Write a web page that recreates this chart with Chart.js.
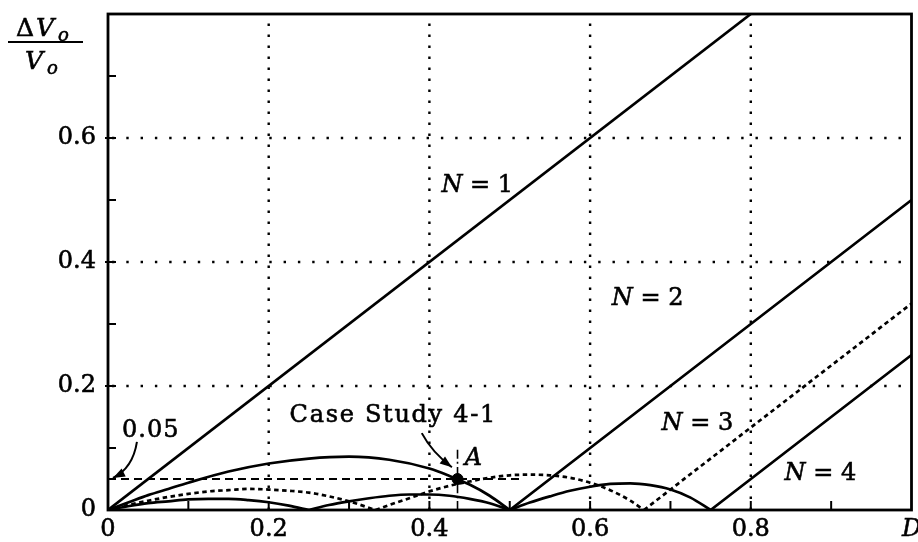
<!DOCTYPE html>
<html>
<head>
<meta charset="utf-8">
<script src="https://cdn.jsdelivr.net/npm/chart.js@4.4.1/dist/chart.umd.min.js"></script>
<style>
  html, body { margin: 0; padding: 0; background: #fff; }
  #wrap { width: 918px; height: 542px; }
</style>
</head>
<body>
<div id="wrap"><canvas id="c"></canvas></div>
<script>
// x = duty ratio D, y = normalized output ripple dVo/Vo
const xTicks = [0, 0.2, 0.4, 0.6, 0.8, 1];
const xTickLabels = ['0', '0.2', '0.4', '0.6', '0.8', 'D'];
const yTicks = [0, 0.2, 0.4, 0.6];
const yTickLabels = ['0', '0.2', '0.4', '0.6'];

// N = 1
const n1D = [0, 0.8];
const n1V = [0, 0.8];

// N = 2
const n2ArchD = [0, 0.025, 0.05, 0.075, 0.1, 0.15, 0.2, 0.25, 0.3, 0.35, 0.4, 0.425, 0.45, 0.475, 0.5];
const n2ArchV = [0, 0.012, 0.024, 0.034, 0.044, 0.062, 0.075, 0.083, 0.086, 0.081, 0.067, 0.055, 0.041, 0.023, 0];
const n2LineD = [0.5, 1];
const n2LineV = [0, 0.5];

// N = 3 (dashed)
const n3Arch1D = [0, 0.025, 0.05, 0.075, 0.1, 0.125, 0.15, 0.175, 0.2, 0.225, 0.25, 0.275, 0.3, 0.333];
const n3Arch1V = [0, 0.008, 0.015, 0.021, 0.026, 0.030, 0.032, 0.034, 0.033, 0.031, 0.028, 0.022, 0.014, 0];
const n3Arch2D = [0.333, 0.35, 0.375, 0.4, 0.425, 0.45, 0.475, 0.5, 0.525, 0.55, 0.575, 0.6, 0.625, 0.65, 0.667];
const n3Arch2V = [0, 0.008, 0.019, 0.030, 0.039, 0.046, 0.052, 0.056, 0.057, 0.056, 0.052, 0.044, 0.032, 0.015, 0];
const n3LineD = [0.667, 1];
const n3LineV = [0, 0.333];

// N = 4
const n4Arch1D = [0, 0.025, 0.05, 0.075, 0.1, 0.125, 0.15, 0.175, 0.2, 0.225, 0.25];
const n4Arch1V = [0, 0.006, 0.011, 0.014, 0.017, 0.018, 0.018, 0.016, 0.0125, 0.007, 0];
const n4Arch2D = [0.25, 0.275, 0.3, 0.325, 0.35, 0.375, 0.4, 0.425, 0.45, 0.475, 0.5];
const n4Arch2V = [0, 0.008, 0.014, 0.019, 0.023, 0.025, 0.025, 0.023, 0.018, 0.011, 0];
const n4Arch3D = [0.5, 0.525, 0.55, 0.575, 0.6, 0.625, 0.65, 0.675, 0.7, 0.725, 0.75];
const n4Arch3V = [0, 0.012, 0.022, 0.031, 0.0375, 0.042, 0.043, 0.040, 0.033, 0.020, 0];
const n4LineD = [0.75, 1];
const n4LineV = [0, 0.25];

// Case Study 4-1: 0.05 limit and operating point A
const limitD = [0, 0.515];
const limitV = [0.05, 0.05];
const markerD = [0.435, 0.435];
const markerV = [0, 0.1];
const pointA = { x: 0.435, y: 0.05 };

const SERIF = '"DejaVu Serif", "Liberation Serif", serif';

function pts(xs, ys) {
  return xs.map((x, i) => ({ x, y: ys[i] }));
}

function curve(xs, ys, dash, width) {
  return {
    data: pts(xs, ys),
    showLine: true,
    borderColor: '#000',
    borderWidth: width || 2.7,
    borderDash: dash || [],
    pointRadius: 0,
    tension: 0.4,
    cubicInterpolationMode: 'monotone',
    fill: false
  };
}

function findLabel(ticks, labels, v) {
  const k = ticks.findIndex(t => Math.abs(t - v) < 1e-6);
  return k >= 0 ? labels[k] : '';
}

// slightly heavier text, like the printed original
function text(ctx, s, px, py) {
  ctx.strokeText(s, px, py);
  ctx.fillText(s, px, py);
}

function arrow(ctx, p0, c, p1) {
  ctx.beginPath();
  ctx.moveTo(p0.x, p0.y);
  ctx.quadraticCurveTo(c.x, c.y, p1.x, p1.y);
  ctx.stroke();
  const ang = Math.atan2(p1.y - c.y, p1.x - c.x);
  const L = 12, W = 4.5;
  ctx.beginPath();
  ctx.moveTo(p1.x, p1.y);
  ctx.lineTo(p1.x - L * Math.cos(ang) + W * Math.sin(ang), p1.y - L * Math.sin(ang) - W * Math.cos(ang));
  ctx.lineTo(p1.x - L * Math.cos(ang) - W * Math.sin(ang), p1.y - L * Math.sin(ang) + W * Math.cos(ang));
  ctx.closePath();
  ctx.fill();
}

function nLabel(ctx, px, py, num) {
  ctx.font = 'italic 24px ' + SERIF;
  text(ctx, 'N', px, py);
  const w = ctx.measureText('N').width;
  ctx.font = '24px ' + SERIF;
  text(ctx, ' = ' + num, px + w, py);
}

const frame = {
  id: 'frame',
  beforeDatasetsDraw(chart) {
    const { ctx, chartArea: a, scales: { x, y } } = chart;
    ctx.save();
    ctx.strokeStyle = '#000';
    ctx.lineWidth = 2.4;
    ctx.setLineDash([2.4, 8.6]);
    xTicks.slice(1, -1).forEach(v => {
      const px = x.getPixelForValue(v);
      ctx.beginPath(); ctx.moveTo(px, a.bottom); ctx.lineTo(px, a.top); ctx.stroke();
    });
    ctx.setLineDash([2.4, 11.9]);
    yTicks.slice(1).forEach(v => {
      const py = y.getPixelForValue(v);
      ctx.beginPath(); ctx.moveTo(a.left + 4, py); ctx.lineTo(a.right, py); ctx.stroke();
    });
    ctx.restore();
  },
  afterDatasetsDraw(chart) {
    const { ctx, chartArea: a, scales: { x, y } } = chart;
    const P = (dx, dy) => ({ x: x.getPixelForValue(dx), y: y.getPixelForValue(dy) });
    ctx.save();
    ctx.fillStyle = '#000';
    ctx.strokeStyle = '#000';

    // ticks, pointing inwards
    ctx.lineWidth = 2;
    x.ticks.forEach(t => {
      if (t.value <= 0 || t.value >= 1) return;
      const px = x.getPixelForValue(t.value);
      ctx.beginPath(); ctx.moveTo(px, a.bottom); ctx.lineTo(px, a.bottom - 9); ctx.stroke();
    });
    y.ticks.forEach(t => {
      if (t.value <= 0 || t.value >= 0.8) return;
      const py = y.getPixelForValue(t.value);
      const major = findLabel(yTicks, yTickLabels, t.value) !== '';
      ctx.beginPath(); ctx.moveTo(a.left - (major ? 3 : 0), py); ctx.lineTo(a.left + 8, py); ctx.stroke();
    });

    // frame
    ctx.lineWidth = 2.8;
    ctx.strokeRect(a.left, a.top, a.width, a.height);

    // curve labels
    ctx.lineWidth = 0.6;
    ctx.textAlign = 'left';
    ctx.textBaseline = 'alphabetic';
    let p = P(0.415, 0.513); nLabel(ctx, p.x, p.y, 1);
    p = P(0.627, 0.331); nLabel(ctx, p.x, p.y, 2);
    p = P(0.689, 0.129); nLabel(ctx, p.x, p.y, 3);
    p = P(0.842, 0.048); nLabel(ctx, p.x, p.y, 4);

    // Case Study 4-1 annotation
    ctx.font = '24px ' + SERIF;
    ctx.letterSpacing = '1.7px';
    p = P(0.226, 0.142); text(ctx, 'Case Study 4-1', p.x, p.y);
    ctx.letterSpacing = '1px';
    p = P(0.0174, 0.118); text(ctx, '0.05', p.x, p.y);
    ctx.letterSpacing = '0px';
    ctx.font = 'italic 24px ' + SERIF;
    p = P(0.444, 0.0726); text(ctx, 'A', p.x, p.y);

    ctx.lineWidth = 2;
    arrow(ctx, P(0.3905, 0.124), P(0.403, 0.0935), P(0.428, 0.069));
    arrow(ctx, P(0.036, 0.11), P(0.031, 0.068), P(0.0062, 0.0516));

    // y axis title: dVo / Vo
    ctx.lineWidth = 0.6;
    ctx.font = '25px ' + SERIF;
    text(ctx, '\u0394', 16, 36);
    ctx.font = 'italic 25px ' + SERIF;
    text(ctx, 'V', 36, 36);
    ctx.font = 'italic 18px ' + SERIF;
    text(ctx, 'o', 58, 41);
    ctx.lineWidth = 1.8;
    ctx.beginPath(); ctx.moveTo(8, 42); ctx.lineTo(83, 42); ctx.stroke();
    ctx.lineWidth = 0.6;
    ctx.font = 'italic 25px ' + SERIF;
    text(ctx, 'V', 25, 69);
    ctx.font = 'italic 18px ' + SERIF;
    text(ctx, 'o', 47, 74);
    ctx.restore();
  }
};

new Chart(document.getElementById('c'), {
  type: 'scatter',
  data: {
    datasets: [
      curve(n1D, n1V),
      curve(n2ArchD, n2ArchV),
      curve(n2LineD, n2LineV),
      curve(n3Arch1D, n3Arch1V, [4.5, 3.5]),
      curve(n3Arch2D, n3Arch2V, [4.5, 3.5]),
      curve(n3LineD, n3LineV, [4.5, 3.5]),
      curve(n4Arch1D, n4Arch1V),
      curve(n4Arch2D, n4Arch2V),
      curve(n4Arch3D, n4Arch3V),
      curve(n4LineD, n4LineV),
      curve(limitD, limitV, [8, 5], 1.8),
      curve(markerD, markerV, [9, 3, 2, 3], 1.6),
      { data: [pointA], pointRadius: 5.5, pointBackgroundColor: '#000', pointBorderColor: '#000', showLine: false }
    ]
  },
  options: {
    responsive: true,
    maintainAspectRatio: false,
    animation: false,
    layout: { padding: { top: 14, right: 6, left: 0, bottom: 0 } },
    plugins: { legend: { display: false }, tooltip: { enabled: false } },
    scales: {
      x: {
        type: 'linear', min: 0, max: 1,
        grid: { display: false, drawTicks: false },
        border: { display: false },
        ticks: {
          stepSize: 0.1, autoSkip: false, maxRotation: 0, padding: 5, color: '#000',
          textStrokeColor: '#000', textStrokeWidth: 0.6,
          callback: v => findLabel(xTicks, xTickLabels, v),
          font: c => ({ family: SERIF, size: 24, style: c.tick && c.tick.value > 0.95 ? 'italic' : 'normal' })
        },
        afterFit: s => { s.height = 32; s.paddingLeft = 0; s.paddingRight = 0; }
      },
      y: {
        type: 'linear', min: 0, max: 0.8,
        grid: { display: false, drawTicks: false },
        border: { display: false },
        ticks: {
          stepSize: 0.1, autoSkip: false, padding: 12, color: '#000',
          textStrokeColor: '#000', textStrokeWidth: 0.6,
          callback: v => findLabel(yTicks, yTickLabels, v),
          font: { family: SERIF, size: 24 }
        },
        afterFit: s => { s.width = 108; s.paddingTop = 0; s.paddingBottom = 0; }
      }
    }
  },
  plugins: [frame]
});
</script>
</body>
</html>
